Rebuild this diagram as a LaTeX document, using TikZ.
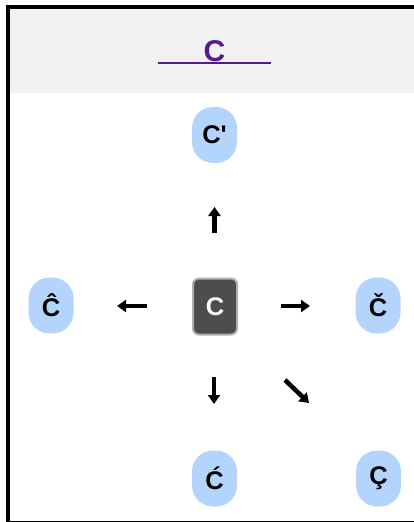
\documentclass[tikz,border=0pt]{standalone}
\usepackage{fontspec}
\setmainfont{Liberation Sans}
\usetikzlibrary{arrows.meta}
\definecolor{pillblue}{RGB}{179,212,252}
\definecolor{headgray}{RGB}{241,241,241}
\definecolor{linkpurple}{RGB}{85,26,139}
\definecolor{darkbox}{RGB}{77,77,77}
\definecolor{boxedge}{RGB}{175,175,175}
\tikzset{
  pill/.style={fill=pillblue, draw=none, rounded corners=21pt, minimum width=45pt, minimum height=56pt, inner sep=0pt, font=\fontsize{25.5}{25.5}\selectfont\bfseries, text=black},
  center box/.style={fill=darkbox, draw=boxedge, line width=2pt, rounded corners=6pt, minimum width=44pt, minimum height=56pt, inner sep=0pt, font=\fontsize{25.5}{25.5}\selectfont\bfseries, text=white},
  shortarrow/.style={line width=4.5pt, -{Triangle[length=9pt,width=12pt]}},
}
\begin{document}
\begin{tikzpicture}[x=1pt,y=1pt]
\useasboundingbox (0,0) rectangle (414,-522);
% header
\fill[headgray] (10,-9) rectangle (414,-93);
% frame
\draw[line width=4pt] (8,-7) rectangle (418,-523);
% title
\node[font=\fontsize{30}{30}\selectfont\bfseries, text=linkpurple, inner sep=0pt, anchor=base] (title) at (214.5,-61) {C};
\coordinate (ulA) at (158,-62.5);
\coordinate (ulB) at (271,-62.5);
\draw[linkpurple, line width=2pt] (ulA) -- (ulB);
% nodes
\node[pill] (top) at (214.5,-135) {C\textquotesingle};
\node[pill] (left) at (51,-305.5) {Ĉ};
\node[pill] (right) at (378,-305.5) {Č};
\node[pill] (bottom) at (214.5,-478.5) {Ć};
\node[pill] (br) at (378.5,-478.5) {Ç};
\node[center box] (c) at (215,-306.5) {C};
% arrows
\coordinate (upS) at (214.5,-233); \coordinate (upE) at (214.5,-207);
\coordinate (lS) at (147,-306); \coordinate (lE) at (117,-306);
\coordinate (rS) at (281,-306); \coordinate (rE) at (310,-306);
\coordinate (dS) at (214,-377); \coordinate (dE) at (214,-404);
\coordinate (drS) at (285,-380); \coordinate (drE) at (309,-403);
\draw[shortarrow] (upS) -- (upE);
\draw[shortarrow] (lS) -- (lE);
\draw[shortarrow] (rS) -- (rE);
\draw[shortarrow] (dS) -- (dE);
\draw[shortarrow] (drS) -- (drE);
\end{tikzpicture}
\end{document}
